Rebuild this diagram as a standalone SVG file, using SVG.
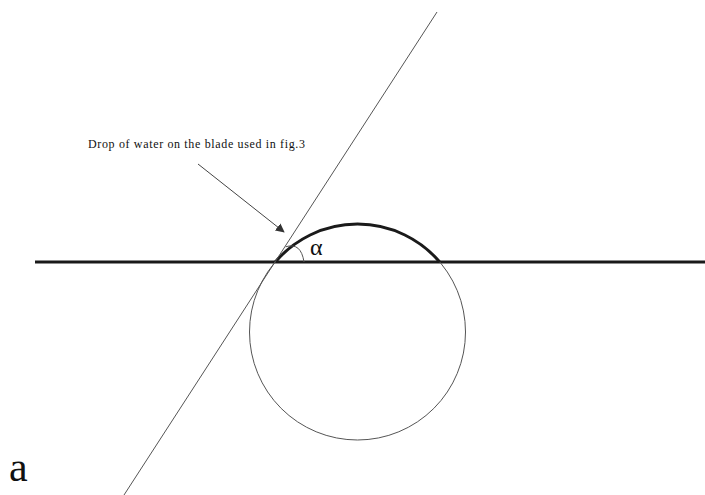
<svg xmlns="http://www.w3.org/2000/svg" width="705" height="495" viewBox="0 0 705 495">
<style>
.thin{fill:none;stroke:#555;stroke-width:1}
.thick{fill:none;stroke:#1a1a1a;stroke-width:3}
text{fill:#111}
.lbl{font-family:'Liberation Serif','DejaVu Serif',serif}
</style>
<defs>
<marker id="ah" viewBox="0 0 10 10" refX="9" refY="5" markerWidth="9" markerHeight="9" markerUnits="userSpaceOnUse" orient="auto">
<path d="M0,0 L10,5 L0,10 z" fill="#333"/>
</marker>
</defs>
<rect width="705" height="495" fill="#fff"/>
<g id="baseline"><line class="thick" x1="35" y1="262" x2="705" y2="262"/></g>
<g id="circle"><circle class="thin" cx="357.5" cy="332" r="108"/></g>
<g id="drop"><path class="thick" d="M275.3,262 A108,108 0 0 1 439.7,262"/></g>
<g id="tangent"><line class="thin" x1="437" y1="12" x2="124" y2="495"/></g>
<g id="angle"><path class="thin" d="M285.6,246.8 Q301,242 304,262"/></g>
<g id="connectors"><line x1="198" y1="164" x2="284" y2="232" stroke="#444" stroke-width="1" marker-end="url(#ah)"/></g>
<g id="label-drop"><text class="lbl" x="88" y="147.5" font-size="12" textLength="217">Drop of water on the blade used in fig.3</text></g>
<g id="label-alpha"><text class="lbl" x="310" y="255" font-size="24">α</text></g>
<g id="label-a"><text class="lbl" x="9" y="481" font-size="42">a</text></g>
</svg>
